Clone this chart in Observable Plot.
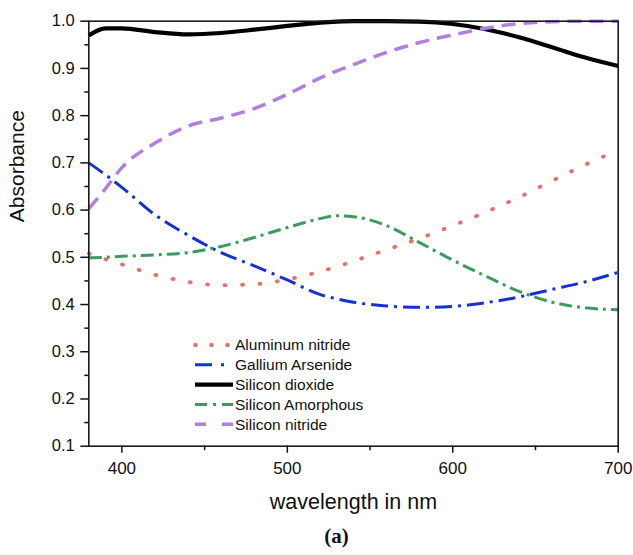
<!DOCTYPE html>
<html>
<head>
<meta charset="utf-8">
<script src="https://cdn.jsdelivr.net/npm/d3@7"></script>
<script src="https://cdn.jsdelivr.net/npm/@observablehq/plot@0.6"></script>
<style>
  html, body { margin: 0; padding: 0; background: #fff; }
  #chart { width: 633px; height: 555px; }
</style>
</head>
<body>
<div id="chart"></div>
<script>
// ---- data ----
const wavelength = [380, 390, 400, 420, 440, 460, 480, 500, 520, 530, 540, 560, 580, 600, 620, 640, 660, 680, 700];
const aluminumNitride   = [0.508, 0.496, 0.485, 0.463, 0.448, 0.441, 0.443, 0.453, 0.470, 0.480, 0.492, 0.516, 0.540, 0.567, 0.596, 0.627, 0.662, 0.696, 0.727];
const galliumArsenide   = [0.700, 0.675, 0.648, 0.590, 0.547, 0.510, 0.482, 0.452, 0.421, 0.412, 0.405, 0.397, 0.394, 0.396, 0.404, 0.416, 0.432, 0.448, 0.468];
const siliconDioxide    = [0.970, 0.985, 0.985, 0.977, 0.972, 0.975, 0.982, 0.990, 0.997, 0.999, 1.000, 1.000, 0.999, 0.994, 0.983, 0.966, 0.945, 0.923, 0.905];
const siliconAmorphous  = [0.499, 0.500, 0.502, 0.505, 0.510, 0.523, 0.542, 0.563, 0.582, 0.588, 0.586, 0.567, 0.531, 0.494, 0.460, 0.428, 0.405, 0.393, 0.389];
const siliconNitride    = [0.603, 0.645, 0.690, 0.742, 0.778, 0.795, 0.815, 0.845, 0.880, 0.895, 0.908, 0.934, 0.955, 0.971, 0.985, 0.995, 0.999, 1.000, 1.000];

const seriesNames = ["Aluminum nitride", "Gallium Arsenide", "Silicon dioxide", "Silicon Amorphous", "Silicon nitride"];
const seriesValues = [aluminumNitride, galliumArsenide, siliconDioxide, siliconAmorphous, siliconNitride];

const xMajorTicks = [400, 500, 600, 700];
const xMinorTicks = [450, 550, 650];
const yMajorTicks = [0.1, 0.2, 0.3, 0.4, 0.5, 0.6, 0.7, 0.8, 0.9, 1.0];
const yMinorTicks = [0.15, 0.25, 0.35, 0.45, 0.55, 0.65, 0.75, 0.85, 0.95];

// ---- styles ----
const styles = {
  "Aluminum nitride":  {stroke: "#e8706a", strokeWidth: 3.8, dash: "1,16.5", cap: "round", legendDash: "1,15"},
  "Gallium Arsenide":  {stroke: "#1530d4", strokeWidth: 3, dash: "17,6,3,6", cap: "butt", legendDash: "17,9,3,9"},
  "Silicon dioxide":   {stroke: "#000000", strokeWidth: 4.2, dash: null, cap: "butt", legendDash: null},
  "Silicon Amorphous": {stroke: "#3d9a5f", strokeWidth: 3, dash: "13,5,3,5", cap: "butt", legendDash: "12,6,3,6"},
  "Silicon nitride":   {stroke: "#b07fe0", strokeWidth: 3.5, dash: "14,8", cap: "butt", legendDash: "11,16"}
};

const font = "'Liberation Sans', Arial, Helvetica, sans-serif";

const W = 633, H = 555;
const mL = 88.3, mR = 15.3, mT = 20.7, mB = H - 445.7;

const lineMarks = seriesNames.map((name, i) => {
  const s = styles[name];
  const rows = wavelength.map((w, j) => ({w, v: seriesValues[i][j]}));
  return Plot.line(rows, {
    x: "w", y: "v", curve: "monotone-x",
    stroke: s.stroke, strokeWidth: s.strokeWidth,
    strokeDasharray: s.dash || undefined,
    strokeLinecap: s.cap
  });
});

const chart = Plot.plot({
  width: W, height: H,
  marginLeft: mL, marginRight: mR, marginTop: mT, marginBottom: mB,
  style: {fontFamily: font, color: "#111", background: "#fff"},
  x: {domain: [380, 700]},
  y: {domain: [0.1, 1.0]},
  marks: [
    ...lineMarks,
    Plot.frame({stroke: "#1a1a1a", strokeWidth: 1.6}),
    Plot.axisX({ticks: xMajorTicks, tickSize: 7, tickPadding: 9, fontSize: 17, tickFormat: d3.format("d"), label: null, strokeWidth: 1.5}),
    Plot.axisX({ticks: xMinorTicks, tickSize: 4.5, text: null, label: null, strokeWidth: 1.5}),
    Plot.axisY({ticks: yMajorTicks, tickSize: 8, tickPadding: 6, fontSize: 16.5, tickFormat: d3.format(".1f"), label: null, strokeWidth: 1.5}),
    Plot.axisY({ticks: yMinorTicks, tickSize: 4, text: null, label: null, strokeWidth: 1.5}),
    Plot.text(["wavelength in nm"], {frameAnchor: "bottom", dy: 63, lineAnchor: "bottom", fontSize: 21.5, fill: "#111"}),
    Plot.text(["Absorbance"], {frameAnchor: "left", dx: -71.5, dy: -11.5, rotate: -90, fontSize: 21, fill: "#111"}),
    Plot.text(["(a)"], {frameAnchor: "bottom", dx: -17, dy: 97, lineAnchor: "bottom", fontSize: 21, fontWeight: "bold", fontFamily: "'Liberation Serif', 'Times New Roman', serif", fill: "#111"})
  ]
});

// ---- legend (inside the plot, lower-left) ----
const svg = d3.select(chart);
const lg = svg.append("g")
  .attr("font-family", font).attr("font-size", 15.5).attr("fill", "#111")
  .attr("text-anchor", "start");
const legX0 = 195, legX1 = 233, legTextX = 235, legY0 = 345, legStep = 19.8;
seriesNames.forEach((name, i) => {
  const s = styles[name];
  const y = legY0 + i * legStep;
  const ln = lg.append("line")
    .attr("x1", legX0).attr("x2", legX1).attr("y1", y).attr("y2", y)
    .attr("stroke", s.stroke).attr("stroke-width", s.strokeWidth)
    .attr("stroke-linecap", s.cap);
  if (s.legendDash) ln.attr("stroke-dasharray", s.legendDash);
  lg.append("text").attr("x", legTextX).attr("y", y).attr("dy", "0.35em")
    .attr("text-anchor", "start").text(name);
});

document.getElementById("chart").appendChild(chart);
</script>
</body>
</html>
